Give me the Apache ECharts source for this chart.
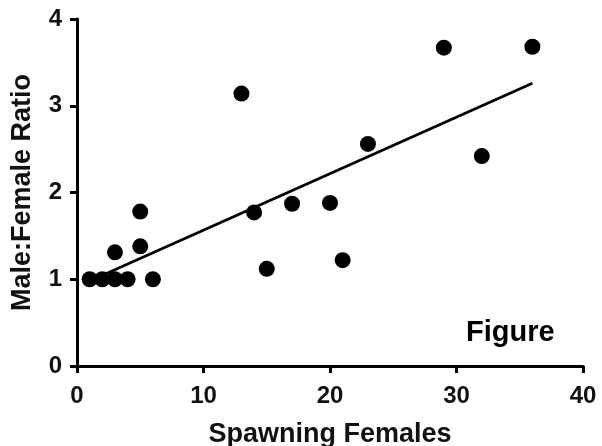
<!DOCTYPE html>
<html>
<head>
<meta charset="utf-8">
<script src="https://cdn.jsdelivr.net/npm/echarts@6/dist/echarts.min.js"></script>
<style>html,body{margin:0;padding:0;background:#fff;}#c{width:602px;height:446px;}</style>
</head>
<body>
<div id="c"></div>
<script>
var xTicks = [0, 10, 20, 30, 40];
var yTicks = [0, 1, 2, 3, 4];
var females = [1, 2, 3, 4, 6, 3, 5, 5, 13, 14, 15, 17, 20, 21, 23, 29, 32, 36];
var ratios = [1.0, 1.0, 1.0, 1.0, 1.0, 1.31, 1.78, 1.38, 3.14, 1.77, 1.12, 1.87, 1.88, 1.22, 2.56, 3.67, 2.42, 3.68];
var fitX = [1, 36];
var fitY = [0.98, 3.26];

var font = 'Liberation Sans, Arial, sans-serif';
var chart = echarts.init(document.getElementById('c'), null, {renderer: 'canvas'});
chart.setOption({
  animation: false,
  backgroundColor: '#fff',
  grid: {left: 77, right: 19, top: 19, bottom: 80, containLabel: false, outerBoundsMode: 'none'},
  xAxis: {
    type: 'value', min: xTicks[0], max: xTicks[xTicks.length - 1], interval: 10,
    axisLine: {show: true, onZero: false, lineStyle: {color: '#000', width: 3}},
    axisTick: {show: true, length: 7, lineStyle: {color: '#000', width: 3}},
    splitLine: {show: false},
    axisLabel: {color: '#111', fontSize: 24, fontWeight: 'bold', fontFamily: font, margin: 18},
    name: 'Spawning Females', nameLocation: 'middle', nameGap: 55,
    nameTextStyle: {color: '#111', fontSize: 27, fontWeight: 'bold', fontFamily: font}
  },
  yAxis: {
    type: 'value', min: yTicks[0], max: yTicks[yTicks.length - 1], interval: 1,
    axisLine: {show: true, onZero: false, lineStyle: {color: '#000', width: 3}},
    axisTick: {show: true, length: 7, lineStyle: {color: '#000', width: 3}},
    splitLine: {show: false},
    axisLabel: {color: '#111', fontSize: 24, fontWeight: 'bold', fontFamily: font, margin: 15},
    name: 'Male:Female Ratio', nameLocation: 'middle', nameGap: 41, nameRotate: 90,
    nameTextStyle: {color: '#111', fontSize: 27, fontWeight: 'bold', fontFamily: font}
  },
  graphic: [{
    type: 'text', left: 466, top: 318,
    style: {text: 'Figure', fill: '#000', font: 'bold 29px ' + font}
  }],
  series: [{
    type: 'line', data: fitX.map(function (x, i) { return [x, fitY[i]]; }),
    showSymbol: false, symbol: 'none', lineStyle: {color: '#000', width: 2.8}, z: 2
  }, {
    type: 'scatter', data: females.map(function (x, i) { return [x, ratios[i]]; }),
    symbol: 'circle', symbolSize: 16, itemStyle: {color: '#000', opacity: 1}, z: 3
  }]
});
</script>
</body>
</html>
